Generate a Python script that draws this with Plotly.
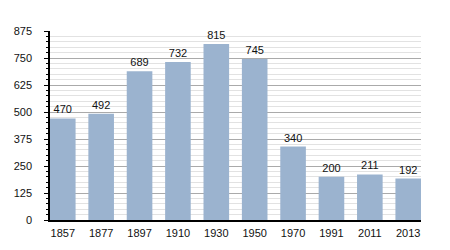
import plotly.graph_objects as go

years = ["1857", "1877", "1897", "1910", "1930", "1950", "1970", "1991", "2011", "2013"]
population = [470, 492, 689, 732, 815, 745, 340, 200, 211, 192]
y_ticks = [0, 125, 250, 375, 500, 625, 750, 875]

fig = go.Figure(go.Bar(
    x=years, y=population,
    marker=dict(color="#9bb3cf", line=dict(width=0)),
    text=[str(v) for v in population],
    textposition="outside",
    textfont=dict(family="Liberation Sans, Arial, sans-serif", size=11, color="#111"),
    cliponaxis=False,
))

fig.update_layout(
    width=450, height=250,
    margin=dict(l=50, r=29, t=31, b=30),
    paper_bgcolor="white", plot_bgcolor="white",
    bargap=0.333,
    showlegend=False,
    font=dict(family="Liberation Sans, Arial, sans-serif", size=11, color="#111"),
)
fig.update_xaxes(
    range=[-0.333, 9.333],
    showline=True, linecolor="black", linewidth=1.5,
    ticks="", showgrid=False,
    ticklabelstandoff=2,
)
fig.update_yaxes(
    range=[0, 875],
    tickvals=y_ticks,
    showline=True, linecolor="black", linewidth=1.5,
    ticks="outside", ticklen=4, tickcolor="black", tickwidth=1,
    ticklabelstandoff=10,
    showgrid=True, gridcolor="#aaaaaa", gridwidth=1,
    zeroline=False,
    minor=dict(dtick=25, showgrid=True, gridcolor="#e2e2e2", gridwidth=1,
               ticks="outside", ticklen=2, tickcolor="black"),
)

fig.write_html("out.html")
